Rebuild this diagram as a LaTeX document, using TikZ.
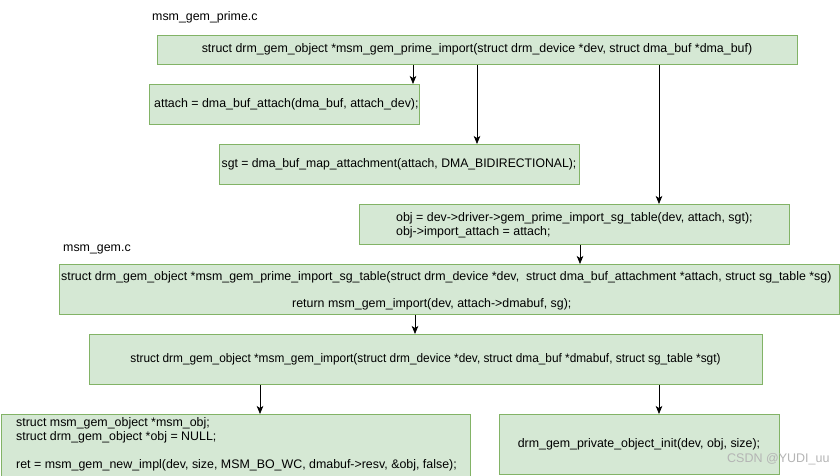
\documentclass[tikz,border=0pt]{standalone}
\usepackage{fontspec}
\setmainfont{Liberation Sans}
\usetikzlibrary{arrows.meta}
\definecolor{boxfill}{HTML}{D5E8D4}
\definecolor{boxline}{HTML}{82B366}
\definecolor{wmark}{HTML}{B4B4B4}
\tikzset{
  gbox/.style={draw=boxline, fill=boxfill, line width=0.9pt, anchor=north west, inner sep=0pt},
  txt/.style={font=\fontsize{12.4}{14}\selectfont, inner sep=0pt},
  arr/.style={-{Stealth[length=8pt,width=6.5pt,inset=2pt]}, line width=0.8pt, black}
}
\begin{document}
\begin{tikzpicture}[x=1pt,y=-1pt]
\useasboundingbox (0,0) rectangle (840,475);
% labels
\node[txt, anchor=west] (lab1) at (152,17) {msm\_gem\_prime.c};
\node[txt, anchor=west] (lab2) at (63,249) {msm\_gem.c};
% boxes
\node[gbox, minimum width=640, minimum height=29] (top) at (157,35) {};
\node[txt] (ttop) at (477,49.5) {struct drm\_gem\_object *msm\_gem\_prime\_import(struct drm\_device *dev, struct dma\_buf *dma\_buf)};
\node[gbox, minimum width=270, minimum height=40] (attach) at (149,84) {};
\node[txt, anchor=west] (tattach) at (154,104) {attach = dma\_buf\_attach(dma\_buf, attach\_dev);};
\node[gbox, minimum width=360, minimum height=40] (sgt) at (219,144) {};
\node[txt] (tsgt) at (399,164) {\scalebox{0.985}[1]{sgt = dma\_buf\_map\_attachment(attach, DMA\_BIDIRECTIONAL);}};
\node[gbox, minimum width=430, minimum height=40] (obj) at (359,204) {};
\node[txt, anchor=west] (tobja) at (396,218) {obj = dev->driver->gem\_prime\_import\_sg\_table(dev, attach, sgt);};
\node[txt, anchor=west] (tobjb) at (396,232) {obj->import\_attach = attach;};
\node[gbox, minimum width=780, minimum height=50] (sg) at (59,264) {};
\node[txt, anchor=west] (tsga) at (61,277) {struct drm\_gem\_object *msm\_gem\_prime\_import\_sg\_table(struct drm\_device *dev,\ \ struct dma\_buf\_attachment *attach, struct sg\_table *sg)};
\node[txt, anchor=west] (tsgb) at (292,304) {return msm\_gem\_import(dev, attach->dmabuf, sg);};
\node[gbox, minimum width=673, minimum height=50] (imp) at (89,334) {};
\node[txt] (timp) at (425.5,359) {\scalebox{0.955}[1]{struct drm\_gem\_object *msm\_gem\_import(struct drm\_device *dev, struct dma\_buf *dmabuf, struct sg\_table *sgt)}};
\node[gbox, minimum width=469, minimum height=62] (bl) at (0.5,414) {};
\node[txt, anchor=west] (tbla) at (16,423) {struct msm\_gem\_object *msm\_obj;};
\node[txt, anchor=west] (tblb) at (16,437) {struct drm\_gem\_object *obj = NULL;};
\node[txt, anchor=west] (tblc) at (16,465) {ret = msm\_gem\_new\_impl(dev, size, MSM\_BO\_WC, dmabuf->resv, \&obj, false);};
\node[gbox, minimum width=280, minimum height=60] (br) at (499,414) {};
\node[txt] (tbr) at (639,444) {drm\_gem\_private\_object\_init(dev, obj, size);};
\node[font=\fontsize{12.5}{14}\selectfont, text=wmark, anchor=west, inner sep=0pt] (wm) at (727,459) {CSDN @YUDI\_uu};
% connectors
\draw[arr] (top.south -| 413,0) -- (attach.north -| 413,0);
\draw[arr] (top.south -| 477,0) -- (sgt.north -| 477,0);
\draw[arr] (top.south -| 659,0) -- (obj.north -| 659,0);
\draw[arr] (obj.south -| 580,0) -- (sg.north -| 580,0);
\draw[arr] (sg.south -| 415,0) -- (imp.north -| 415,0);
\draw[arr] (imp.south -| 260,0) -- (bl.north -| 260,0);
\draw[arr] (imp.south -| 659,0) -- (br.north -| 659,0);
\end{tikzpicture}
\end{document}
